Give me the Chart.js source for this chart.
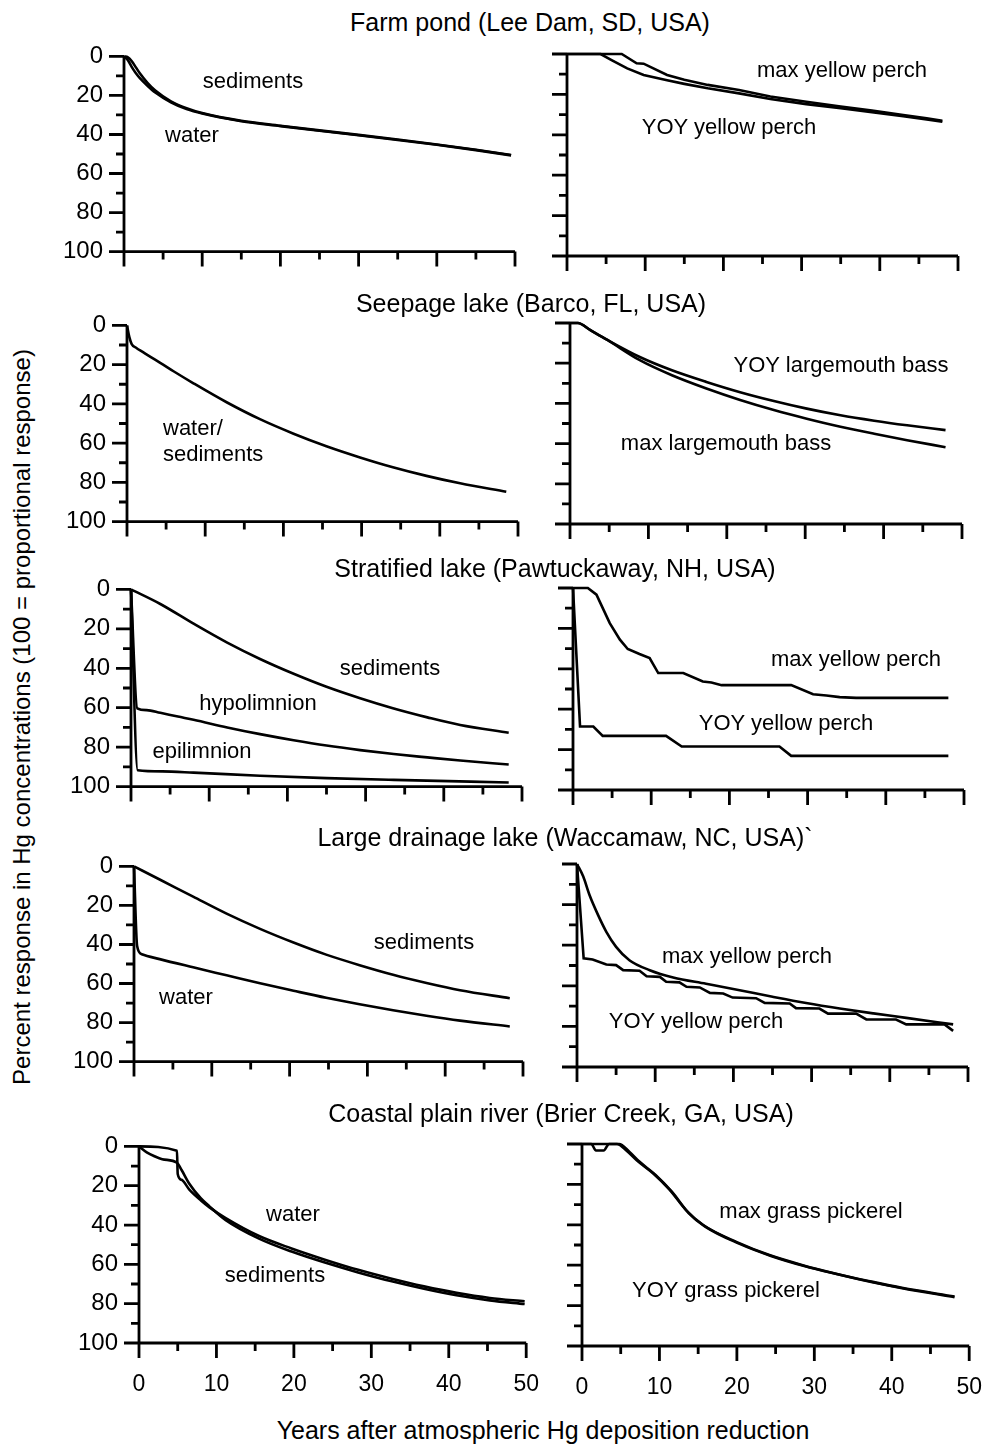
<!DOCTYPE html>
<html>
<head>
<meta charset="utf-8">
<script src="https://cdn.jsdelivr.net/npm/chart.js@4.4.0/dist/chart.umd.min.js"></script>
<style>
  html, body { margin: 0; padding: 0; background: #fff; }
  #page { position: relative; width: 988px; height: 1445px; overflow: hidden;
          font-family: "Liberation Sans", Arial, sans-serif; color: #000; }
  canvas { position: absolute; }
  .txt { position: absolute; white-space: nowrap; font-size: 22px; line-height: 1; transform: translate(-50%, -50%); }
  .txt.left { transform: translate(0, -50%); }
  .title { font-size: 25px; }
  .ytitle { font-size: 24px; }
</style>
</head>
<body>
<div id="page"></div>
<script>
// axis ticks (years, percent)
const xTickLabels = [0, 10, 20, 30, 40, 50];
const yTickLabels = [0, 20, 40, 60, 80, 100];
const xMarks = [0, 5, 10, 15, 20, 25, 30, 35, 40, 45, 50];
const yMarks = [0, 10, 20, 30, 40, 50, 60, 70, 80, 90, 100];

// Farm pond (Lee Dam)
const pondYears = [0, 0.5, 1, 1.5, 2, 3, 4, 6, 8, 10, 15, 20, 25, 30, 35, 40, 45, 49.5];
const pondSediments = [0, 0.5, 2.5, 5.5, 8.5, 13.5, 17.5, 23, 26.5, 29, 33, 35.5, 37.9, 40.2, 42.6, 45.1, 47.8, 50.5];
const pondWater = [0, 2, 5.5, 8.5, 11, 15, 18.5, 23.5, 27, 29.3, 33.2, 35.7, 38.1, 40.4, 42.8, 45.3, 48, 50.7];
const pondMaxYears = [0, 7, 8.9, 9.8, 12.8, 15, 18, 22, 26, 30.6, 35, 39, 43, 46, 48];
const pondMaxPerch = [0, 0, 4.6, 4.8, 10.4, 12.8, 15.3, 17.8, 21, 23.6, 26, 28, 30.2, 31.8, 33];
const pondYoyYears = [0, 4.3, 5.7, 7.7, 9.8, 12.8, 15, 18, 22, 26, 30.6, 35, 39, 43, 46, 48];
const pondYoyPerch = [0, 0, 3, 7.1, 10.4, 13, 14.8, 17, 19.5, 22.3, 24.8, 26.8, 28.8, 30.8, 32.4, 33.5];

// Seepage lake (Barco)
const seepYears = [0, 0.3, 0.6, 1.2, 2, 3, 4.3, 6, 8.5, 12.8, 17, 21.3, 25.5, 29.8, 34, 38.3, 42.6, 48.5];
const seepWaterSed = [0, 6, 9.5, 11.5, 13.5, 16, 19.2, 23.5, 29.5, 39.3, 47.8, 55.2, 61.6, 67.3, 72.3, 76.7, 80.5, 84.8];
const bassYears = [0, 1, 2.6, 4.7, 8.9, 13, 17.4, 21.7, 26, 30.2, 34.5, 38.8, 43, 47.9];
const bassYoy = [0, 0, 3.6, 8.3, 16.9, 23.5, 29.3, 34.4, 38.8, 42.6, 45.9, 48.6, 50.9, 53.3];
const bassMax = [0, 0, 3.6, 8.3, 18.5, 26, 32.6, 38.3, 43.3, 47.6, 51.6, 55.1, 58.3, 61.8];

// Stratified lake (Pawtuckaway)
const stratYears = [0, 3.75, 8, 12.3, 16.5, 20.8, 25, 29.3, 33.6, 37.9, 42.1, 48.3];
const stratSediments = [0, 7.4, 17.4, 27, 35.3, 42.8, 49.4, 55.2, 60.4, 64.9, 68.8, 72.7];
const stratHypoYears = [0, 0.8, 2, 3.75, 6, 8, 12.3, 16.5, 20.8, 25, 29.3, 33.6, 37.9, 42.1, 48.3];
const stratHypo = [0, 60.3, 61.2, 62.6, 64.5, 66.1, 70, 73.4, 76.5, 79.2, 81.5, 83.5, 85.2, 86.8, 88.8];
const stratEpiYears = [0, 0.85, 4, 8, 16.5, 25, 33.6, 48.3];
const stratEpi = [0, 91.7, 92.3, 92.9, 94.5, 95.7, 96.6, 97.9];
const pawMaxYears = [0, 1.9, 3, 4.7, 6, 7, 8.5, 9.8, 10.9, 14.1, 16.6, 17.7, 19, 27.9, 30.7, 32.4, 34.1, 36.2, 48];
const pawMaxPerch = [0, 0, 3.3, 17.4, 25.6, 30.2, 32.7, 34.7, 42.1, 42.1, 46.3, 46.8, 48.1, 48.1, 52.6, 53.2, 54, 54.4, 54.4];
const pawYoyYears = [0, 0.9, 2.6, 3.8, 11.9, 13.9, 26.4, 27.9, 48];
const pawYoyPerch = [0, 68.6, 68.6, 73.2, 73.2, 78.5, 78.5, 83.1, 83.1];

// Large drainage lake (Waccamaw)
const wacYears = [0, 3.3, 7.6, 11.9, 16.2, 20.5, 24.7, 29, 33.3, 37.6, 41.9, 48.3];
const wacSediments = [0, 6.7, 15.5, 24.2, 32, 39, 45.2, 50.6, 55.5, 59.7, 63.4, 67.5];
const wacWaterYears = [0, 0.4, 1, 3.3, 7.6, 11.9, 16.2, 20.5, 24.7, 29, 33.3, 37.6, 41.9, 48.3];
const wacWater = [0, 40.8, 45, 47.5, 51.7, 55.8, 59.9, 63.7, 67.3, 70.6, 73.7, 76.5, 79, 82];
const wacMaxYears = [0, 0.8, 1.6, 2.7, 3.75, 5, 6.7, 9.3, 12.3, 16.5, 20.8, 25, 29.3, 33.6, 37.9, 42.1, 48.1];
const wacMaxPerch = [0, 6.2, 15.3, 25.2, 33.4, 40.8, 47.4, 52.3, 55.9, 59, 62.2, 65.4, 68.5, 71.2, 73.6, 75.8, 79];
const wacYoyYears = [0, 0.85, 2, 3.75, 5, 5.9, 8, 8.9, 10.6, 11.4, 13.1, 14, 15.7, 17, 18.7, 19.9, 22.9, 24, 27.2, 28, 31, 32.1, 35.7, 37, 40.8, 42.1, 47, 48.1];
const wacYoyPerch = [0, 46.5, 47, 49.5, 49.8, 52.3, 52.6, 55.3, 55.6, 58, 58.3, 60.5, 60.8, 63.5, 63.8, 65.8, 66.1, 68.4, 68.7, 71, 71.2, 73.7, 73.7, 76.6, 76.6, 79, 79, 82.2];

// Coastal plain river (Brier Creek)
const coastWaterYears = [0, 4.9, 5, 5.5, 6.5, 8, 9.1, 11.2, 15.5, 19.7, 24, 28.3, 32.5, 36.8, 41, 45.3, 49.8];
const coastWater = [0, 2.2, 14, 17, 22, 27.5, 31, 36.5, 45.6, 51.9, 57.6, 62.8, 67.2, 71.2, 74.5, 77.1, 78.8];
const coastSedYears = [0, 1, 2, 3, 4.9, 5.5, 6.5, 8, 9.1, 11.2, 15.5, 19.7, 24, 28.3, 32.5, 36.8, 41, 45.3, 49.8];
const coastSediments = [0, 3, 5, 6.5, 8.3, 12, 19, 26.5, 30.5, 37.5, 46.9, 53.5, 59.1, 64.1, 68.5, 72.4, 75.7, 78.3, 80.2];
const brierMaxYears = [0, 4.8, 6.1, 7.4, 9.5, 11.6, 13.8, 15.9, 20.2, 24.4, 28.7, 33, 37.2, 41.5, 48.1];
const brierMax = [0, 0, 3.8, 8.7, 15.3, 23.6, 34.3, 40.9, 49.2, 55.4, 60.4, 64.5, 68.2, 71.5, 75.8];
const brierYoyYears = [0, 1.2, 1.8, 2.8, 3.5, 4.5, 5.8, 7.1, 9.2, 11.3, 13.5, 15.6, 20, 24.2, 28.5, 32.8, 37, 41.3, 48.1];
const brierYoy = [0, 0, 3.2, 3.2, 0, 0, 3.5, 8.2, 14.6, 22.6, 33, 40, 48.6, 55, 60, 64.2, 67.8, 71.2, 75.5];

// panel layout: plot box [left, top, right, bottom] in page pixels
const panels = [
  { box: [124, 52, 515, 252], labels: true, bottom: false,
    series: [[pondYears, pondSediments, true], [pondYears, pondWater, true]] },
  { box: [567, 54, 958, 256], labels: false, bottom: false,
    series: [[pondMaxYears, pondMaxPerch, false], [pondYoyYears, pondYoyPerch, false]] },
  { box: [127, 321, 518, 522], labels: true, bottom: false,
    series: [[seepYears, seepWaterSed, true]] },
  { box: [570, 323, 962, 524], labels: false, bottom: false,
    series: [[bassYears, bassYoy, true], [bassYears, bassMax, true]] },
  { box: [131, 585, 522, 787], labels: true, bottom: false,
    series: [[stratYears, stratSediments, true], [stratHypoYears, stratHypo, true], [stratEpiYears, stratEpi, true]] },
  { box: [573, 588, 964, 790], labels: false, bottom: false,
    series: [[pawMaxYears, pawMaxPerch, false], [pawYoyYears, pawYoyPerch, false]] },
  { box: [134, 862, 523, 1062], labels: true, bottom: false,
    series: [[wacYears, wacSediments, true], [wacWaterYears, wacWater, true]] },
  { box: [577, 864, 968, 1067], labels: false, bottom: false,
    series: [[wacMaxYears, wacMaxPerch, true], [wacYoyYears, wacYoyPerch, false]] },
  { box: [139, 1142, 530, 1343], labels: true, bottom: true,
    series: [[coastWaterYears, coastWater, true], [coastSedYears, coastSediments, true]] },
  { box: [582, 1144, 973, 1346], labels: false, bottom: true,
    series: [[brierMaxYears, brierMax, true], [brierYoyYears, brierYoy, true]] }
];

const texts = [
  ['Farm pond (Lee Dam, SD, USA)', 530, 22, 'title'],
  ['Seepage lake (Barco, FL, USA)', 531, 303, 'title'],
  ['Stratified lake (Pawtuckaway, NH, USA)', 555, 568, 'title'],
  ['Large drainage lake (Waccamaw, NC, USA)`', 565, 837, 'title'],
  ['Coastal plain river (Brier Creek, GA, USA)', 561, 1113, 'title'],
  ['Years after atmospheric Hg deposition reduction', 543, 1430, 'title'],
  ['sediments', 253, 81], ['water', 192, 135],
  ['max yellow perch', 842, 70], ['YOY yellow perch', 729, 127],
  ['water/', 163, 428, 'left'], ['sediments', 163, 454, 'left'],
  ['YOY largemouth bass', 841, 365], ['max largemouth bass', 726, 443],
  ['sediments', 390, 668], ['hypolimnion', 258, 703], ['epilimnion', 202, 751],
  ['max yellow perch', 856, 659], ['YOY yellow perch', 786, 723],
  ['sediments', 424, 942], ['water', 186, 997],
  ['max yellow perch', 747, 956], ['YOY yellow perch', 696, 1021],
  ['water', 293, 1214], ['sediments', 275, 1275],
  ['max grass pickerel', 811, 1211], ['YOY grass pickerel', 726, 1290]
];

const page = document.getElementById('page');
const FONT = 'Liberation Sans';

// axis lines and tick marks, long at labelled values
const axisMarks = {
  id: 'axisMarks',
  afterDraw(chart) {
    const { ctx, chartArea: a, scales } = chart;
    ctx.save();
    ctx.strokeStyle = '#000';
    ctx.lineWidth = 2.8;
    ctx.beginPath();
    ctx.moveTo(a.left, a.top);
    ctx.lineTo(a.left, a.bottom);
    ctx.lineTo(a.right, a.bottom);
    xMarks.forEach(v => {
      const p = scales.x.getPixelForValue(v);
      ctx.moveTo(p, a.bottom);
      ctx.lineTo(p, a.bottom + (xTickLabels.includes(v) ? 15 : 8));
    });
    yMarks.forEach(v => {
      const p = scales.y.getPixelForValue(v);
      ctx.moveTo(a.left, p);
      ctx.lineTo(a.left - (yTickLabels.includes(v) ? 15 : 8), p);
    });
    ctx.stroke();
    ctx.restore();
  }
};

panels.forEach(p => {
  const [l, t, r, b] = p.box;
  const yW = p.labels ? 80 : 20;
  const xH = p.bottom ? 60 : 20;
  const padTop = 16, padRight = 22;
  const canvas = document.createElement('canvas');
  canvas.width = yW + (r - l) + padRight;
  canvas.height = padTop + (b - t) + xH;
  canvas.style.left = (l - yW) + 'px';
  canvas.style.top = (t - padTop) + 'px';
  page.appendChild(canvas);

  const datasets = p.series.map(([xs, ys, smooth]) => ({
    data: xs.map((x, i) => ({ x: x, y: ys[i] })),
    showLine: true,
    borderColor: '#000',
    borderWidth: 2.6,
    pointRadius: 0,
    fill: false,
    tension: 0,
    cubicInterpolationMode: smooth ? 'monotone' : 'default',
    clip: 6
  }));

  new Chart(canvas, {
    type: 'scatter',
    data: { datasets },
    options: {
      responsive: false,
      animation: false,
      devicePixelRatio: 1,
      layout: { padding: { top: padTop, right: padRight, left: 0, bottom: 0 } },
      plugins: { legend: { display: false }, tooltip: { enabled: false } },
      scales: {
        x: {
          type: 'linear', min: 0, max: 50,
          border: { display: false },
          grid: { display: false, drawTicks: true, tickLength: 15 },
          afterBuildTicks: s => { s.ticks = xTickLabels.map(v => ({ value: v })); },
          ticks: { display: p.bottom, padding: 13, color: '#000', font: { family: FONT, size: 23 } },
          afterFit: s => { s.height = xH; }
        },
        y: {
          type: 'linear', min: 0, max: 100, reverse: true,
          border: { display: false },
          grid: { display: false, drawTicks: true, tickLength: 15 },
          afterBuildTicks: s => { s.ticks = yTickLabels.map(v => ({ value: v })); },
          ticks: { display: p.labels, padding: 6, color: '#000', font: { family: FONT, size: 24 } },
          afterFit: s => { s.width = yW; }
        }
      }
    },
    plugins: [axisMarks]
  });
});

texts.forEach(([str, x, y, cls]) => {
  const d = document.createElement('div');
  d.className = 'txt' + (cls ? ' ' + cls : '');
  d.textContent = str;
  d.style.left = x + 'px';
  d.style.top = y + 'px';
  page.appendChild(d);
});

// vertical axis title
const yTitle = document.createElement('div');
yTitle.className = 'txt ytitle';
yTitle.textContent = 'Percent response in Hg concentrations (100 = proportional response)';
yTitle.style.left = '22px';
yTitle.style.top = '717px';
yTitle.style.transform = 'translate(-50%, -50%) rotate(-90deg)';
page.appendChild(yTitle);
</script>
</body>
</html>
